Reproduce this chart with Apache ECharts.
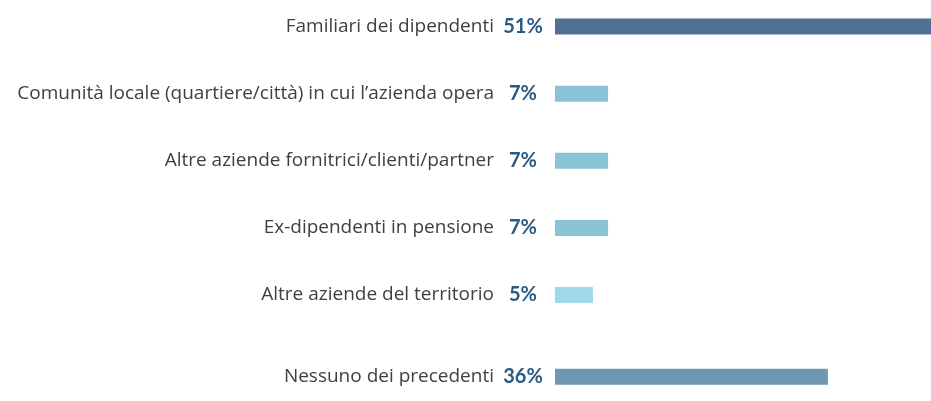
<!DOCTYPE html>
<html><head><meta charset="utf-8">
<script src="https://cdn.jsdelivr.net/npm/echarts@6/dist/echarts.min.js"></script>
<style>html,body{margin:0;padding:0;background:#fff}#c{width:931px;height:401px}</style>
</head><body><div id="c"></div>
<script>
var categoriesTop = ["Familiari dei dipendenti","Comunità locale (quartiere/città) in cui l’azienda opera","Altre aziende fornitrici/clienti/partner","Ex-dipendenti in pensione","Altre aziende del territorio"];
var valuesTop = [51, 7, 7, 7, 5];
var colorsTop = ["#4f7092", "#8bc3d6", "#8bc3d6", "#8bc3d6", "#9fd8e8"];
var categoriesBottom = ["Nessuno dei precedenti"];
var valuesBottom = [36];
var colorsBottom = ["#6e97b3"];
var axisMax = 49.6;

var chart = echarts.init(document.getElementById('c'), null, {renderer:'canvas'});
function labelCfg(vals, cats){
  return {
    margin: 9,
    formatter: function(v, i){ return '{c|' + v + '}{p|' + vals[cats.indexOf(v)] + '%}'; },
    rich: {
      c: {fontFamily:'Open Sans', fontSize:19, color:'#3f3f3f', padding:[0,6,0,0]},
      p: {fontFamily:'Lato', fontWeight:'bold', fontSize:20, color:'#2b5a80', width:46, align:'center'}
    }
  };
}
function ycat(cats, vals, gi, bg){
  return {type:'category', gridIndex:gi, data:cats, inverse:true, boundaryGap:bg,
    axisLine:{show:false}, axisTick:{show:false}, splitLine:{show:false},
    axisLabel: labelCfg(vals, cats)};
}
function xval(gi){
  return {type:'value', gridIndex:gi, min:0, max:axisMax, show:false, splitLine:{show:false}};
}
chart.setOption({
  animation:false,
  grid:[
    {left:555, right:0, top:26.5, height:268.5},
    {left:555, right:0, top:352.5, height:67}
  ],
  xAxis:[xval(0), xval(1)],
  yAxis:[ycat(categoriesTop, valuesTop, 0, false), ycat(categoriesBottom, valuesBottom, 1, true)],
  series:[
    {type:'bar', xAxisIndex:0, yAxisIndex:0, barWidth:16, clip:true,
     data: valuesTop.map(function(v,i){return {value:v, itemStyle:{color:colorsTop[i]}};})},
    {type:'bar', xAxisIndex:1, yAxisIndex:1, barWidth:16, clip:true,
     data: valuesBottom.map(function(v,i){return {value:v, itemStyle:{color:colorsBottom[i]}};})}
  ]
});
</script></body></html>
